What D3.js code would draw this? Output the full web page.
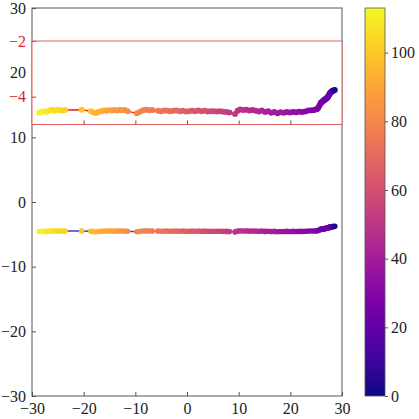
<!DOCTYPE html>
<html>
<head>
<meta charset="utf-8">
<script src="https://cdn.jsdelivr.net/npm/d3@7"></script>
<style>
  body { margin: 0; background: #fff; }
</style>
</head>
<body>
<svg id="chart" width="419" height="419"></svg>
<script>
// path samples, left to right
var xs = [-28.6,-28.1,-27.6,-27.1,-26.6,-26.1,-25.6,-25.1,-24.6,-24.1,-23.6,
  -20.4,
  -18.6,-18.1,-17.6,-17.1,-16.6,-16.1,-15.6,-15.1,-14.6,-14.1,-13.6,-13.1,-12.6,-12.1,-11.5,
  -9.7,-9.1,-8.5,-7.9,-7.3,-6.7,
  -5.6,-5.0,-4.4,-3.8,-3.2,-2.6,-2.0,-1.4,-0.8,-0.2,0.4,1.0,1.6,2.2,2.8,3.4,4.0,4.6,5.2,5.8,6.4,7.0,7.6,8.2,
  9.3,9.8,10.3,10.9,11.5,12.1,12.7,13.3,13.9,14.5,15.1,15.7,16.3,16.9,17.5,18.1,18.7,19.3,19.9,20.5,21.1,21.7,22.3,22.9,23.5,24.1,24.6,25.0,
  25.2,25.4,25.6,25.8,25.9,26.0,26.2,26.3,26.4,26.5,26.6,26.7,26.8,26.9,27.0,27.1,27.2,27.3,27.4,27.5,27.6,27.7,27.8,27.9,28.0,28.1,28.2,28.4,28.6];
var ys = [-4.58,-4.54,-4.52,-4.55,-4.49,-4.47,-4.51,-4.47,-4.49,-4.50,-4.48,
  -4.47,
  -4.52,-4.57,-4.59,-4.54,-4.52,-4.50,-4.51,-4.49,-4.50,-4.48,-4.50,-4.48,-4.49,-4.48,-4.52,
  -4.60,-4.54,-4.49,-4.47,-4.49,-4.48,
  -4.51,-4.52,-4.50,-4.51,-4.52,-4.51,-4.50,-4.52,-4.51,-4.53,-4.52,-4.51,-4.52,-4.50,-4.52,-4.51,-4.53,-4.52,-4.52,-4.53,-4.52,-4.54,-4.55,-4.57,
  -4.62,-4.51,-4.46,-4.48,-4.47,-4.50,-4.48,-4.51,-4.53,-4.50,-4.55,-4.52,-4.58,-4.55,-4.60,-4.56,-4.58,-4.55,-4.57,-4.55,-4.56,-4.54,-4.55,-4.53,-4.50,-4.49,-4.48,-4.45,
  -4.44,-4.40,-4.33,-4.26,-4.23,-4.20,-4.18,-4.16,-4.15,-4.13,-4.12,-4.10,-4.09,-4.07,-4.06,-4.05,-4.03,-4.00,-3.97,-3.93,-3.90,-3.87,-3.85,-3.84,-3.82,-3.80,-3.79,-3.78,-3.76];
// colour value of each sample
var cs = [112,111,110,109,108,107,106,105,104,103,102,
  99,
  97,96,95,94,93,92,91,90,89,88,87,86,85,84,83,
  81,80,79,78,77,76,
  75,74,73,72,71,70,69,68,67,66,65,64,63,62,61,60,59,58,57,56,55,54,53,52,
  50,49,49,48,47,46,45,45,44,43,42,41,41,40,39,38,37,37,36,35,34,33,33,32,31,30,30,29,
  28,28,27,27,27,26,26,26,25,25,25,24,24,24,23,23,23,22,22,22,21,21,20,20,19,18,16,10,2];

var mainTicks = [-30,-20,-10,0,10,20,30];
var insetYTicks = [-2,-4];
var insetXTicks = [-20,-10,0,10,20];
var cbarTicks = [0,20,40,60,80,100];
var cbarMax = 113;

var FONT = "'Liberation Serif', 'Times New Roman', Times, serif";

var pts = xs.map(function(x, i){
  return {x: x, y: ys[i], c: cs[i]};
});

var svg = d3.select("#chart");
var minus = function(d){ return d < 0 ? "\u2212" + Math.abs(d) : "" + d; };
var axisCol = "#555";

var plot = {left: 32, right: 342, top: 8, bottom: 396};
var xScale = d3.scaleLinear().domain([-30,30]).range([plot.left, plot.right]);
var yScale = d3.scaleLinear().domain([-30,30]).range([plot.bottom, plot.top]);
var color = d3.scaleSequential(d3.interpolatePlasma).domain([0, cbarMax]);

var styleText = function(g, col){
  g.attr("font-family", FONT);
  g.selectAll("text").attr("font-family", FONT).attr("font-size", 16).attr("fill", col);
};

// main line + dots
var line = d3.line().x(function(d){ return xScale(d.x); }).y(function(d){ return yScale(d.y); });
svg.append("path").datum(pts)
  .attr("d", line).attr("fill", "none")
  .attr("stroke", "#3b3bd0").attr("stroke-width", 1.5);
svg.append("g").selectAll("circle").data(pts).enter().append("circle")
  .attr("cx", function(d){ return xScale(d.x); })
  .attr("cy", function(d){ return yScale(d.y); })
  .attr("r", 2.8)
  .attr("fill", function(d){ return color(d.c); });

// main axes
var xAxis = d3.axisBottom(xScale).tickValues(mainTicks).tickSizeInner(-4).tickSizeOuter(0).tickPadding(7).tickFormat(minus);
var yAxis = d3.axisLeft(yScale).tickValues(mainTicks).tickSizeInner(-4).tickSizeOuter(0).tickPadding(6).tickFormat(minus);
var gx = svg.append("g").attr("transform", "translate(0," + plot.bottom + ")").call(xAxis);
var gy = svg.append("g").attr("transform", "translate(" + plot.left + ",0)").call(yAxis);
[gx, gy].forEach(function(g){
  g.select(".domain").remove();
  g.selectAll("line").attr("stroke", axisCol);
  styleText(g, "#222");
});
svg.append("rect")
  .attr("x", plot.left).attr("y", plot.top)
  .attr("width", plot.right - plot.left).attr("height", plot.bottom - plot.top)
  .attr("fill", "none").attr("stroke", axisCol).attr("stroke-width", 1);

// inset zoom
var inset = {top: 41, bottom: 124.5};
var iy = d3.scaleLinear().domain([-5,-2]).range([inset.bottom, inset.top]);
svg.append("rect")
  .attr("x", plot.left).attr("y", inset.top)
  .attr("width", plot.right - plot.left).attr("height", inset.bottom - inset.top)
  .attr("fill", "#fff");
var iline = d3.line().x(function(d){ return xScale(d.x); }).y(function(d){ return iy(d.y); });
svg.append("path").datum(pts)
  .attr("d", iline).attr("fill", "none")
  .attr("stroke", "#e03020").attr("stroke-width", 1.5);
svg.append("g").selectAll("circle").data(pts).enter().append("circle")
  .attr("cx", function(d){ return xScale(d.x); })
  .attr("cy", function(d){ return iy(d.y); })
  .attr("r", 3)
  .attr("fill", function(d){ return color(d.c); });

var ixAxis = d3.axisBottom(xScale).tickValues(insetXTicks).tickSizeInner(-4).tickSizeOuter(0).tickFormat("");
var iyAxis = d3.axisLeft(iy).tickValues(insetYTicks).tickSizeInner(-4).tickSizeOuter(0).tickPadding(6).tickFormat(minus);
var gix = svg.append("g").attr("transform", "translate(0," + inset.bottom + ")").call(ixAxis);
var giy = svg.append("g").attr("transform", "translate(" + plot.left + ",0)").call(iyAxis);
gix.select(".domain").remove();
giy.select(".domain").remove();
gix.selectAll("line").attr("stroke", axisCol);
giy.selectAll("line").attr("stroke", "#d62728");
styleText(giy, "#d62728");
svg.append("rect")
  .attr("x", plot.left).attr("y", inset.top)
  .attr("width", plot.right - plot.left).attr("height", inset.bottom - inset.top)
  .attr("fill", "none").attr("stroke", "#e06060").attr("stroke-width", 1);

// colorbar
var cb = {x: 365, w: 20, top: 8, bottom: 396};
var cScale = d3.scaleLinear().domain([0, cbarMax]).range([cb.bottom, cb.top]);
var grad = svg.append("defs").append("linearGradient")
  .attr("id", "cgrad").attr("x1", 0).attr("y1", 1).attr("x2", 0).attr("y2", 0);
d3.range(0, 1.0001, 0.05).forEach(function(t){
  grad.append("stop").attr("offset", t).attr("stop-color", d3.interpolatePlasma(t));
});
svg.append("rect")
  .attr("x", cb.x).attr("y", cb.top).attr("width", cb.w).attr("height", cb.bottom - cb.top)
  .attr("fill", "url(#cgrad)").attr("stroke", axisCol).attr("stroke-width", 0.8);
var cAxis = d3.axisRight(cScale).tickValues(cbarTicks).tickSizeInner(3).tickSizeOuter(0).tickPadding(3);
var gc = svg.append("g").attr("transform", "translate(" + (cb.x + cb.w) + ",0)").call(cAxis);
gc.select(".domain").remove();
gc.selectAll("line").attr("stroke", axisCol);
styleText(gc, "#222");
</script>
</body>
</html>
